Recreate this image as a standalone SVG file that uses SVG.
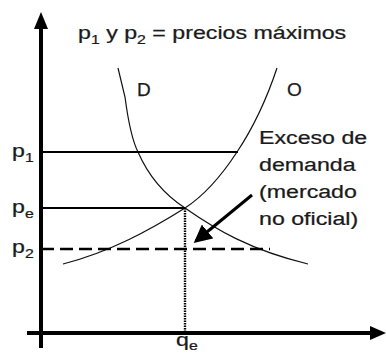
<svg xmlns="http://www.w3.org/2000/svg" width="386" height="355" viewBox="0 0 386 355">
<style>
text{font-family:"Liberation Sans",Arial,sans-serif;font-size:19px;fill:#1a1a1a;stroke:#1a1a1a;stroke-width:0.25}
.sub{font-size:13px}
.axis{stroke:#000;stroke-width:4;fill:none}
.curve{stroke:#111;stroke-width:1.2;fill:none}
</style>
<defs>
<marker id="ah" markerWidth="6" markerHeight="6" refX="5" refY="3" orient="auto" markerUnits="strokeWidth">
<path d="M0,0 L6,3 L0,6 Z" fill="#000"/>
</marker>
</defs>
<rect width="386" height="355" fill="#fff"/>
<g id="axes">
<line class="axis" x1="41" y1="348" x2="41" y2="26"/>
<path d="M41,12 L34,29 L48,29 Z" fill="#000"/>
<line class="axis" x1="27" y1="333" x2="372" y2="333"/>
<path d="M386,333 L370,326 L370,340 Z" fill="#000"/>
</g>
<g id="title">
<text transform="translate(78,39) scale(1.22,1)">p<tspan class="sub" dy="5">1</tspan><tspan dy="-5"> y p</tspan><tspan class="sub" dy="5">2</tspan><tspan dy="-5"> = precios máximos</tspan></text>
</g>
<g id="curves">
<path id="demand" class="curve" d="M118,68 L125,97 C128,120 132,140 138,152 C148,175 165,195 185,208 C215,229 250,250 308,264"/>
<path id="supply" class="curve" d="M277,68 C268,95 255,125 237,152 C222,175 205,195 185,208 C150,230 110,252 63,264"/>
</g>
<g id="connectors">
<line x1="41" y1="152" x2="238" y2="152" stroke="#000" stroke-width="2.2"/>
<line x1="41" y1="208" x2="185" y2="208" stroke="#000" stroke-width="2.2"/>
<line x1="41" y1="249" x2="270" y2="249" stroke="#000" stroke-width="2.6" stroke-dasharray="13,6"/>
<line x1="185" y1="208" x2="185" y2="333" stroke="#000" stroke-width="2.4" stroke-dasharray="1.5,1"/>
<line x1="252" y1="195" x2="196" y2="241" stroke="#000" stroke-width="3" marker-end="url(#ah)"/>
</g>
<g id="labels">
<text x="137" y="96">D</text>
<text x="287" y="96">O</text>
<text transform="translate(12,157) scale(1.22,1)">p<tspan class="sub" dy="5">1</tspan></text>
<text transform="translate(12,213) scale(1.22,1)">p<tspan class="sub" dy="5">e</tspan></text>
<text transform="translate(12,253) scale(1.22,1)">p<tspan class="sub" dy="5">2</tspan></text>
<text transform="translate(176,346) scale(1.22,1)">q<tspan class="sub" dy="4">e</tspan></text>
</g>
<g id="note">
<text transform="translate(259,144) scale(1.22,1)">Exceso de</text>
<text transform="translate(259,171) scale(1.22,1)">demanda</text>
<text transform="translate(259,198) scale(1.22,1)">(mercado</text>
<text transform="translate(259,225) scale(1.22,1)">no oficial)</text>
</g>
</svg>
